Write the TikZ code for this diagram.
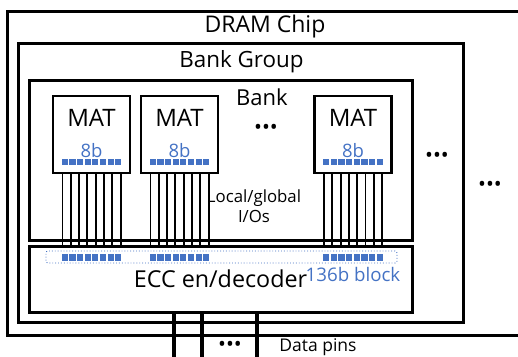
\documentclass[tikz,border=0pt]{standalone}
\usepackage{fontspec}
\setmainfont{Open Sans}
\usetikzlibrary{calc}
\definecolor{bitblue}{HTML}{4472C4}
\tikzset{
  box/.style={draw, line width=3pt, inner sep=0pt, outer sep=0pt},
  matbox/.style={box, line width=2.6pt, minimum width=77, minimum height=77},
  bit/.style={fill=bitblue, minimum size=6.3pt, inner sep=0pt},
  wire/.style={line width=1.9pt},
  pin/.style={line width=3.6pt},
  dots/.style={font=\fontsize{21}{22}\selectfont, inner sep=0pt,
               text height=10pt, text depth=0pt, anchor=base}
}
\begin{document}
\begin{tikzpicture}[x=1pt,y=-1pt]
  \useasboundingbox (0,0) rectangle (518,356);
  \clip (0,0) rectangle (518,356);

  % Çip, banka grubu, banka
  \node[box, minimum width=518, minimum height=324] (chip) at (266,173) {};
  \node[box, minimum width=445, minimum height=279] (bg) at (240.5,182.5) {};
  \node[box, minimum width=383, minimum height=160] (bank) at (220.5,160) {};
  \node[box, minimum width=383, minimum height=66,
        font=\fontsize{23.3}{25}\selectfont] (ecc) at (220.5,279) {ECC en/decoder};

  \node[font=\fontsize{23}{25}\selectfont] (chiplbl) at (265,27) {DRAM Chip};
  \node[font=\fontsize{22.4}{24}\selectfont] (bglbl) at (241.5,62) {Bank Group};
  \node[font=\fontsize{22}{24}\selectfont] (banklbl) at (262,97) {Bank};

  % MAT kutuları
  \node[matbox] (mat1) at (91.5,134.5) {};
  \node[matbox] (mat2) at (179.5,134.5) {};
  \node[matbox] (mat3) at (353,134.5) {};

  % Blok çerçevesi
  \node[draw=bitblue, dotted, line width=0.9pt, rounded corners=2pt,
        minimum width=351, minimum height=12, inner sep=0pt] (blk) at (221.5,257) {};

  \foreach \m in {mat1,mat2,mat3} {
    \node[font=\fontsize{24}{26}\selectfont] at ($(\m.center)+(0,-16.5)$) {MAT};
    \node[text=bitblue, font=\fontsize{18.5}{20}\selectfont] at ($(\m.center)+(0,16)$) {8b};
    \foreach \i in {0,...,7} {
      \node[bit] at ($(\m.center)+({(\i-3.5)*7.66},27.5)$) {};
      \node[bit] at ($(\m.center |- ecc.north)+({(\i-3.5)*7.66},11.5)$) {};
      \draw[wire] (\m.south) ++({(\i-3.5)*8.3},0) coordinate (w) -- (w |- ecc.north);
    }
  }

  \node[font=\fontsize{16.8}{20}\selectfont, align=center] (io) at (254,206) {Local/global\\I/Os};
  \node[text=bitblue, font=\fontsize{18.7}{20}\selectfont] (blklbl) at (353,274) {136b block};

  % Noktalar
  \node[dots] at (266,134.5) {•••};
  \node[dots] at (437,162.5) {•••};
  \node[dots] at (490,191.5) {•••};
  \node[dots] at (230,351) {•••};

  % Veri pinleri
  \coordinate (p1) at (174,360);
  \coordinate (p2) at (202,360);
  \coordinate (p3) at (257,360);
  \foreach \p in {p1,p2,p3}
    \draw[pin] (\p |- ecc.south) -- (\p);
  \node[font=\fontsize{17.5}{19}\selectfont] (pinlbl) at (318,347) {Data pins};
\end{tikzpicture}
\end{document}
